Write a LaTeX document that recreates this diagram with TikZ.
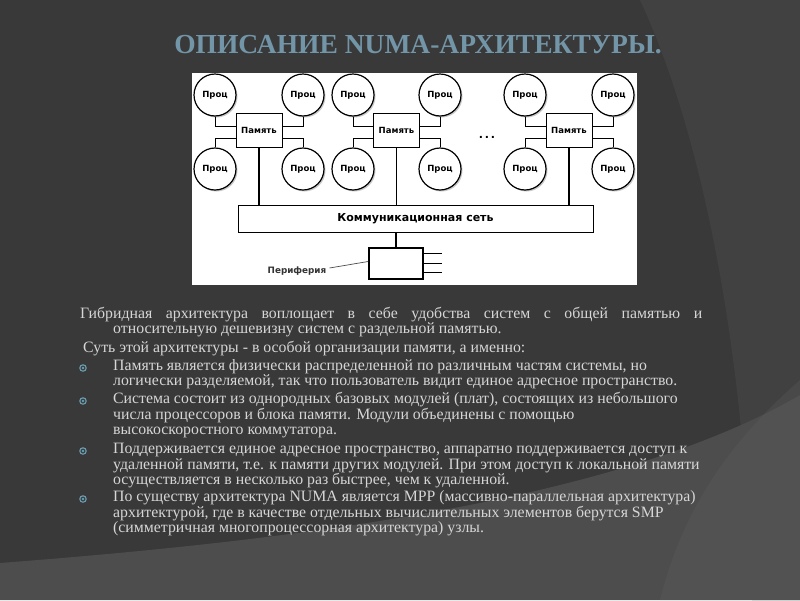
\documentclass[tikz,border=0pt]{standalone}
\usepackage{fontspec}
\setmainfont{Liberation Serif}
\newfontfamily\dsans{DejaVu Sans}
\usetikzlibrary{calc,shadows}
\definecolor{bgmain}{HTML}{393939}
\definecolor{bgright}{HTML}{414141}
\definecolor{bgbottom}{HTML}{4D4D4D}
\definecolor{titlecol}{HTML}{7296A8}
\definecolor{bodycol}{HTML}{D6D6D6}
\definecolor{bulletcol}{HTML}{6A9FB2}
\tikzset{
  proc/.style={circle,draw=black,line width=1.2pt,fill=white,minimum size=42pt,inner sep=0pt,
    font=\dsans\bfseries\fontsize{8.5}{9}\selectfont,
    drop shadow={shadow xshift=1.5pt,shadow yshift=-1.5pt,fill=black!35,opacity=0.6}},
  mem/.style={rectangle,draw=black,line width=0.8pt,fill=white,minimum width=46pt,minimum height=34pt,inner sep=0pt,
    font=\dsans\bfseries\fontsize{8.5}{9}\selectfont},
  wire/.style={draw=black,line width=0.9pt},
  bus/.style={draw=black,line width=1.6pt},
  body/.style={anchor=mid west,inner sep=0pt,text=bodycol,font=\fontsize{15.8}{17}\selectfont},
  bul/.style={draw=bulletcol,line width=1.1pt}
}
\newcommand{\bulletmark}[2]{%
  \draw[bul] (#1,#2) circle (3.2pt);
  \fill[bulletcol] (#1,#2) circle (1.3pt);}
\begin{document}
\begin{tikzpicture}[x=1pt,y=-1pt]
\useasboundingbox (0,0) rectangle (800,600);
% background
\fill[bgmain] (0,0) rectangle (800,600);
\fill[bgright] (640,0) .. controls (705,140) and (745,360) .. (752,600) -- (800,600) -- (800,0) -- cycle;
\fill[bgbottom] (0,563) .. controls (300,540) and (620,500) .. (800,395) -- (800,600) -- (0,600) -- cycle;
\fill[bgmain!80!white,opacity=0.25] (800,380) .. controls (720,450) and (680,520) .. (660,600) -- (800,600) -- cycle;
% title
\node[inner sep=0pt,text=titlecol,font=\bfseries\fontsize{27.5}{30}\selectfont] (title) at (418,45) {ОПИСАНИЕ NUMA-АРХИТЕКТУРЫ.};
% diagram panel
\fill[white] (192,73) rectangle (637,285);
% modules
\foreach \i/\l/\m/\r in {1/215/259/303, 2/353/396.5/440, 3/525/569/613}{
  \node[mem] (m\i) at (\m,130) {Память};
  \node[proc] (pt\i) at (\l,95) {Проц};
  \node[proc] (qt\i) at (\r,95) {Проц};
  \node[proc] (pb\i) at (\l,169) {Проц};
  \node[proc] (qb\i) at (\r,169) {Проц};
  \draw[wire] (pt\i.south) |- ($(m\i.west)+(0,-4)$);
  \draw[wire] (pb\i.north) |- ($(m\i.west)+(0,8)$);
  \draw[wire] (qt\i.south) |- ($(m\i.east)+(0,-4)$);
  \draw[wire] (qb\i.north) |- ($(m\i.east)+(0,8)$);
}
\node[inner sep=0pt,font=\dsans\bfseries\fontsize{11}{12}\selectfont] (dots) at (487,137) {.\,.\,.};
% network
\node[rectangle,draw=black,line width=0.8pt,fill=white,minimum width=355pt,minimum height=27pt,inner sep=0pt,
  font=\dsans\bfseries\fontsize{11}{12}\selectfont] (net) at (415.5,218.5) {Коммуникационная сеть};
\foreach \i in {1,2,3}{\draw[bus] (m\i.south) -- (m\i.south |- net.north);}
% periphery
\node[rectangle,draw=black,line width=1.6pt,fill=white,minimum width=54pt,minimum height=31pt,inner sep=0pt] (per) at (396,263.5) {};
\draw[bus] (net.south -| per.north) -- (per.north);
\foreach \k in {-10,0,9}{\draw[bus] ($(per.east)+(0,\k)$) -- ++(18,0) coordinate (e\k);}
\node[inner sep=0pt,font=\dsans\bfseries\fontsize{8.8}{10}\selectfont,text=black!80] (plabel) at (297,271) {Периферия};
\draw[black!70,line width=0.7pt] (plabel.east)+(3,-3) coordinate (ls) -- ($(per.west)+(0,-2)$);
% body text
\node[body] (t1) at (80,316) {\hbox to 622pt{Гибридная\hfill архитектура\hfill воплощает\hfill в\hfill себе\hfill удобства\hfill систем\hfill с\hfill общей\hfill памятью\hfill и}};
\node[body] (t2) at (113,331) {относительную дешевизну систем с раздельной памятью.};
\node[body] (t3) at (83,350) {Суть этой архитектуры - в особой организации памяти, а именно:};
\bulletmark{83}{368}
\node[body] (b11) at (113,368) {Память является физически распределенной по различным частям системы, но};
\node[body] (b12) at (113,383) {логически разделяемой, так что пользователь видит единое адресное пространство.};
\bulletmark{83}{401}
\node[body] (b21) at (113,401) {Система состоит из однородных базовых модулей (плат), состоящих из небольшого};
\node[body] (b22) at (113,417) {числа процессоров и блока памяти. Модули объединены с помощью};
\node[body] (b23) at (113,432) {высокоскоростного коммутатора.};
\bulletmark{83}{451}
\node[body] (b31) at (113,451) {Поддерживается единое адресное пространство, аппаратно поддерживается доступ к};
\node[body] (b32) at (113,467) {удаленной памяти, т.е. к памяти других модулей. При этом доступ к локальной памяти};
\node[body] (b33) at (113,482) {осуществляется в несколько раз быстрее, чем к удаленной.};
\bulletmark{83}{499}
\node[body] (b41) at (113,499) {По существу архитектура NUMA является MPP (массивно-параллельная архитектура)};
\node[body] (b42) at (113,515) {архитектурой, где в качестве отдельных вычислительных элементов берутся SMP};
\node[body] (b43) at (113,530) {(симметричная многопроцессорная архитектура) узлы.};
\end{tikzpicture}
\end{document}
